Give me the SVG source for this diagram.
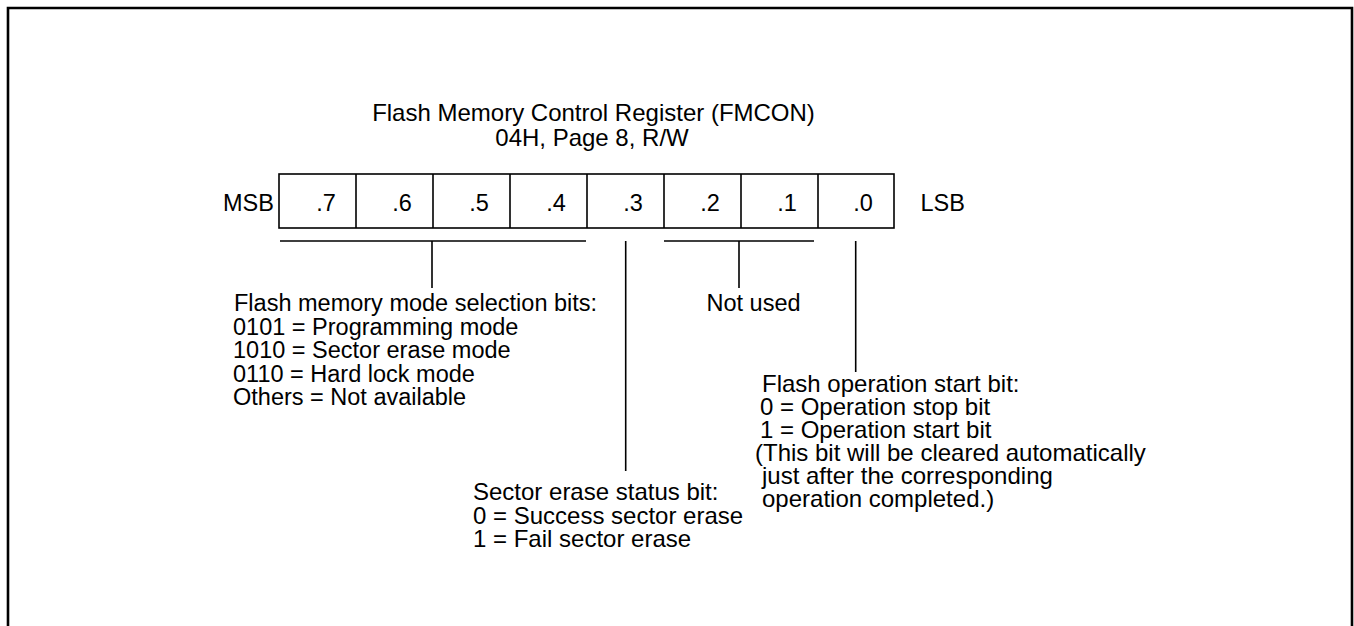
<svg xmlns="http://www.w3.org/2000/svg" width="1354" height="626" viewBox="0 0 1354 626">
<style>
text{font-family:"Liberation Sans",Arial,sans-serif;font-size:23.5px;fill:#000}
.c{text-anchor:middle}
.d{font-size:24px}
.ln{stroke:#000;stroke-width:1.6;fill:none}
.cell{stroke:#000;stroke-width:1.6;fill:#fff}
</style>
<rect x="0" y="0" width="1354" height="626" fill="#fff"/>
<path d="M8 640 V8 H1352 V640" fill="none" stroke="#000" stroke-width="2.6"/>
<g id="title">
<text class="c d" x="593.5" y="121">Flash Memory Control Register (FMCON)</text>
<text class="c d" x="592" y="146">04H, Page 8, R/W</text>
</g>
<g id="register">
<text x="223" y="210.5">MSB</text>
<text x="920.5" y="210.5">LSB</text>
<rect class="cell" x="279" y="174" width="615" height="54"/>
<path class="ln" d="M356 174V228M433 174V228M510 174V228M587 174V228M664 174V228M741 174V228M818 174V228"/>
<text class="c" x="326" y="210.5">.7</text>
<text class="c" x="402" y="210.5">.6</text>
<text class="c" x="479" y="210.5">.5</text>
<text class="c" x="556" y="210.5">.4</text>
<text class="c" x="633" y="210.5">.3</text>
<text class="c" x="710" y="210.5">.2</text>
<text class="c" x="787" y="210.5">.1</text>
<text class="c" x="863" y="210.5">.0</text>
</g>
<g id="connectors">
<path class="ln" d="M280 241H586M432 241V288"/>
<path class="ln" d="M625.7 241V471"/>
<path class="ln" d="M664 241H814M739 241V288"/>
<path class="ln" d="M855.7 241V372"/>
</g>
<g id="mode-bits">
<text x="234" y="311">Flash memory mode selection bits:</text>
<text x="233" y="334.5">0101 = Programming mode</text>
<text x="233" y="358">1010 = Sector erase mode</text>
<text x="233" y="381.5">0110 = Hard lock mode</text>
<text x="233" y="405">Others = Not available</text>
</g>
<g id="not-used">
<text x="706.5" y="311">Not used</text>
</g>
<g id="sector-erase">
<text class="d" x="473" y="500">Sector erase status bit:</text>
<text class="d" x="473" y="523.5">0 = Success sector erase</text>
<text class="d" x="473" y="547">1 = Fail sector erase</text>
</g>
<g id="start-bit">
<text class="d" x="762" y="392">Flash operation start bit:</text>
<text class="d" x="760" y="415">0 = Operation stop bit</text>
<text class="d" x="760" y="438">1 = Operation start bit</text>
<text class="d" x="755" y="461">(This bit will be cleared automatically</text>
<text class="d" x="762" y="484">just after the corresponding</text>
<text class="d" x="762" y="507">operation completed.)</text>
</g>
</svg>
